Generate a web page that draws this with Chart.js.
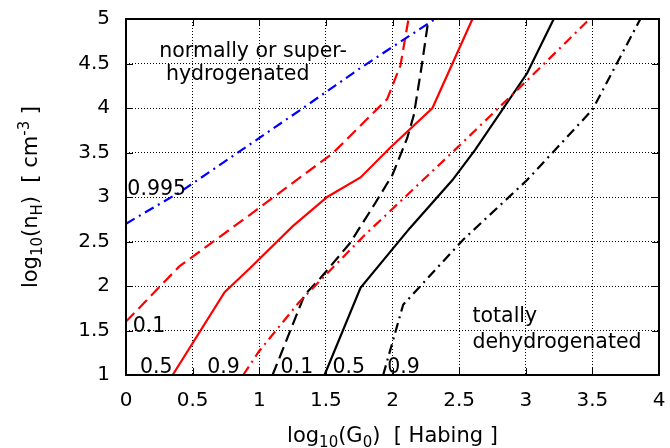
<!DOCTYPE html>
<html>
<head>
<meta charset="utf-8">
<script src="https://cdn.jsdelivr.net/npm/chart.js@4/dist/chart.umd.min.js"></script>
<style>
  html, body { margin: 0; padding: 0; background: #fff; }
  #wrap { width: 670px; height: 448px; }
</style>
</head>
<body>
<div id="wrap"><canvas id="chart"></canvas></div>
<script>
// tick values
const xTicks = [0, 0.5, 1, 1.5, 2, 2.5, 3, 3.5, 4];
const yTicks = [1, 1.5, 2, 2.5, 3, 3.5, 4, 4.5, 5];

// contour lines, log10(G0) vs log10(nH)
const blue995X = [0, 0.41, 1.31, 1.76, 2.32];
const blue995Y = [2.7, 3.06, 3.98, 4.45, 5];

const red01X = [0, 0.4, 0.93, 1.55, 1.96, 2.06, 2.12];
const red01Y = [1.6, 2.22, 2.8, 3.49, 4.1, 4.48, 5];

const red05X = [0.35, 0.74, 0.93, 1.25, 1.51, 1.76, 1.98, 2.3, 2.6];
const red05Y = [1, 1.93, 2.2, 2.67, 3.0, 3.22, 3.55, 4.0, 5];

const red09X = [0.88, 1.0, 1.3, 1.79, 2.49, 3.01, 3.48];
const red09Y = [1, 1.27, 1.82, 2.57, 3.56, 4.31, 5];

const black01X = [1.1, 1.34, 1.46, 1.68, 1.87, 2.0, 2.11, 2.16, 2.22, 2.27];
const black01Y = [1, 1.9, 2.09, 2.48, 2.93, 3.25, 3.66, 3.92, 4.48, 5];

const black05X = [1.49, 1.76, 2.13, 2.45, 2.62, 3.01, 3.21];
const black05Y = [1, 1.98, 2.65, 3.19, 3.53, 4.39, 5];

const black09X = [1.93, 2.08, 2.53, 3.01, 3.5, 3.86];
const black09Y = [1, 1.79, 2.52, 3.19, 3.98, 5];

// in-plot labels (data coordinates of the left edge)
const labelTexts = ['0.995', '0.1', '0.5', '0.9', '0.1', '0.5', '0.9',
  'normally or super-', 'hydrogenated', 'totally', 'dehydrogenated'];
const labelX = [0.01, 0.05, 0.105, 0.61, 1.16, 1.55, 1.96, 0.25, 0.30, 2.6, 2.6];
const labelY = [3.08, 1.54, 1.08, 1.08, 1.08, 1.08, 1.08, 4.63, 4.38, 1.65, 1.36];

const FONT = '"DejaVu Sans", sans-serif';

function pts(xs, ys) {
  return xs.map((x, i) => ({ x: x, y: ys[i] }));
}

function series(xs, ys, color, dash) {
  return {
    data: pts(xs, ys),
    borderColor: color,
    borderWidth: 2.2,
    borderDash: dash,
    pointRadius: 0,
    showLine: true,
    fill: false,
    tension: 0
  };
}

const dashed = [12, 6];
const dashDot = [10, 5, 2, 5];

// draw text with sub/superscripts, centered at (cx, cy)
function drawRich(ctx, parts, cx, cy, rotate) {
  const big = 21, small = 15;
  let total = 0;
  parts.forEach(p => {
    ctx.font = (p.s ? small : big) + 'px ' + FONT;
    p.w = ctx.measureText(p.t).width;
    total += p.w;
  });
  ctx.save();
  ctx.translate(cx, cy);
  if (rotate) ctx.rotate(-Math.PI / 2);
  ctx.fillStyle = '#000';
  ctx.textBaseline = 'alphabetic';
  ctx.textAlign = 'left';
  let x = -total / 2;
  parts.forEach(p => {
    ctx.font = (p.s ? small : big) + 'px ' + FONT;
    ctx.fillText(p.t, x, 7 + (p.s || 0));
    x += p.w;
  });
  ctx.restore();
}

const decorations = {
  id: 'decorations',
  afterDraw(chart) {
    const ctx = chart.ctx;
    const a = chart.chartArea;
    const xs = chart.scales.x, ys = chart.scales.y;
    ctx.save();
    // inward ticks on all sides
    ctx.strokeStyle = '#000';
    ctx.lineWidth = 1;
    ctx.beginPath();
    xTicks.forEach(v => {
      const px = Math.round(xs.getPixelForValue(v)) + 0.5;
      ctx.moveTo(px, a.bottom); ctx.lineTo(px, a.bottom - 7);
      ctx.moveTo(px, a.top); ctx.lineTo(px, a.top + 7);
    });
    yTicks.forEach(v => {
      const py = Math.round(ys.getPixelForValue(v)) + 0.5;
      ctx.moveTo(a.left, py); ctx.lineTo(a.left + 7, py);
      ctx.moveTo(a.right, py); ctx.lineTo(a.right - 7, py);
    });
    ctx.stroke();
    // frame
    ctx.lineWidth = 2;
    ctx.strokeRect(a.left, a.top, a.right - a.left, a.bottom - a.top);
    // labels
    ctx.fillStyle = '#000';
    ctx.font = '20.5px ' + FONT;
    ctx.textAlign = 'left';
    ctx.textBaseline = 'middle';
    labelTexts.forEach((t, i) => {
      ctx.fillText(t, xs.getPixelForValue(labelX[i]), ys.getPixelForValue(labelY[i]));
    });
    ctx.restore();
    // axis titles
    drawRich(ctx, [
      { t: 'log' }, { t: '10', s: 5 }, { t: '(G' }, { t: '0', s: 5 }, { t: ')  [ Habing ]' }
    ], (a.left + a.right) / 2, 435, false);
    drawRich(ctx, [
      { t: 'log' }, { t: '10', s: 5 }, { t: '(n' }, { t: 'H', s: 5 }, { t: ')  [ cm' }, { t: '-3', s: -8 }, { t: ' ]' }
    ], 30, (a.top + a.bottom) / 2, true);
  }
};

const gridOpts = {
  color: '#000',
  lineWidth: 1,
  drawTicks: false,
  tickLength: 0
};

function noPad(s) {
  s.paddingTop = 0;
  s.paddingBottom = 0;
  s.paddingLeft = 0;
  s.paddingRight = 0;
}

new Chart(document.getElementById('chart'), {
  type: 'scatter',
  data: {
    datasets: [
      series(blue995X, blue995Y, '#0000ff', dashDot),
      series(red01X, red01Y, '#ff0000', dashed),
      series(red05X, red05Y, '#ff0000', []),
      series(red09X, red09Y, '#ff0000', dashDot),
      series(black01X, black01Y, '#000000', dashed),
      series(black05X, black05Y, '#000000', []),
      series(black09X, black09Y, '#000000', dashDot)
    ]
  },
  options: {
    responsive: true,
    maintainAspectRatio: false,
    animation: false,
    layout: { padding: { top: 19, right: 11, left: 0, bottom: 0 } },
    plugins: {
      legend: { display: false },
      tooltip: { enabled: false }
    },
    scales: {
      x: {
        type: 'linear',
        min: 0,
        max: 4,
        afterBuildTicks: s => { s.ticks = xTicks.map(v => ({ value: v })); },
        afterFit: s => { s.height = 73; noPad(s); },
        grid: gridOpts,
        border: { display: false, dash: [1, 2] },
        ticks: {
          color: '#000', font: { family: FONT, size: 20 }, padding: 14, maxRotation: 0,
          callback: v => String(v)
        }
      },
      y: {
        type: 'linear',
        min: 1,
        max: 5,
        afterBuildTicks: s => { s.ticks = yTicks.map(v => ({ value: v })); },
        afterFit: s => { s.width = 126; noPad(s); },
        grid: gridOpts,
        border: { display: false, dash: [1, 2] },
        ticks: {
          color: '#000', font: { family: FONT, size: 20 }, padding: 16,
          callback: v => String(v)
        }
      }
    }
  },
  plugins: [decorations]
});
</script>
</body>
</html>
